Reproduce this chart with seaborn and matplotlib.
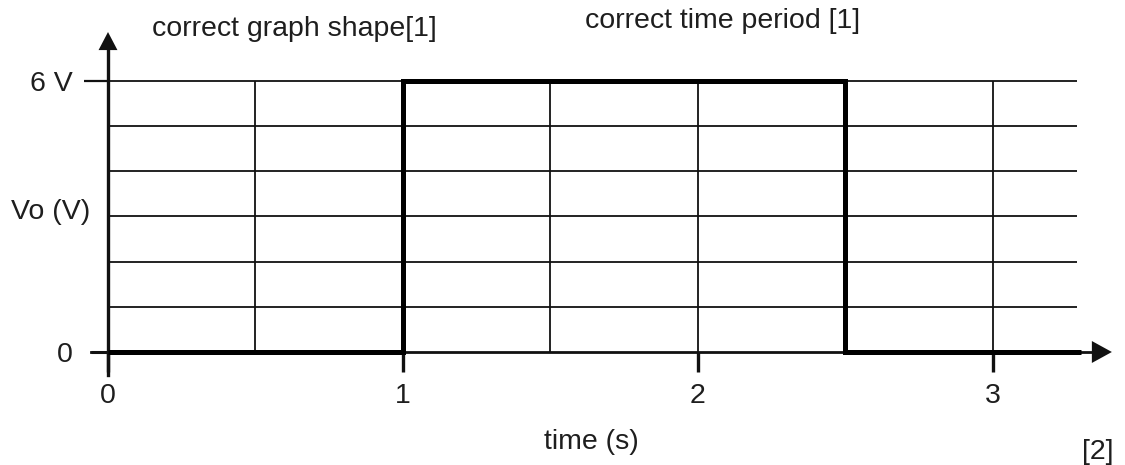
import matplotlib
matplotlib.use("Agg")
import matplotlib.pyplot as plt
import seaborn as sns

# Output voltage: low, then high from 1 s to 2.5 s, then low again
edge_time = [0.0, 1.0, 2.5, 3.3]     # s, moment each level starts
edge_volts = [0.0, 6.0, 0.0, 0.0]    # V, level held from that moment

x_ticks = [0, 1, 2, 3]
x_tick_labels = ["0", "1", "2", "3"]
y_ticks = [0, 6]
y_tick_labels = ["0", "6 V"]

grid_times = [0.5, 1.0, 1.5, 2.0, 2.5, 3.0]
grid_volts = [1, 2, 3, 4, 5, 6]
grid_end = 3.285

note_shape = "correct graph shape[1]"
note_period = "correct time period [1]"
mark_total = "[2]"

sns.set_theme(style="white")
plt.rcParams["font.family"] = ["Liberation Sans", "DejaVu Sans"]

INK = "#111111"
TEXT = "#1e1e1e"
FS = 20.5

fig = plt.figure(figsize=(11.25, 4.65), dpi=100)
ax = fig.add_axes([0, 0, 1, 1])
ax.set_xlim(-0.3661, 3.4475)
ax.set_ylim(-2.502, 7.793)

# square grid, 0.5 s by 1 V
ax.vlines(grid_times, 0, 6, colors=INK, lw=1.3, zorder=1)
ax.hlines(grid_volts, 0, grid_end, colors=INK, lw=1.3, zorder=1)

# the waveform
sns.lineplot(x=edge_time, y=edge_volts, drawstyle="steps-post", color="black",
             lw=3.6, ax=ax, zorder=4, solid_joinstyle="miter",
             solid_capstyle="butt")

# axes through the origin, with arrowheads
for side in ("top", "right"):
    ax.spines[side].set_visible(False)
ax.spines["left"].set_position(("data", 0))
ax.spines["bottom"].set_position(("data", 0))
ax.spines["left"].set_bounds(-0.51, 6.8)
ax.spines["bottom"].set_bounds(-0.058, 3.35)
ax.spines["left"].set_linewidth(2.4)
ax.spines["bottom"].set_linewidth(2.0)
for s in ("left", "bottom"):
    ax.spines[s].set_color(INK)
    ax.spines[s].set_zorder(3)

ax.annotate("", xy=(0, 7.084), xytext=(0, 6.7),
            arrowprops=dict(arrowstyle="-|>,head_length=1.3,head_width=0.68",
                            mutation_scale=10, color=INK, lw=0,
                            shrinkA=0, shrinkB=0))
ax.annotate("", xy=(3.403, 0), xytext=(3.3, 0),
            arrowprops=dict(arrowstyle="-|>,head_length=1.44,head_width=0.79",
                            mutation_scale=10, color=INK, lw=0,
                            shrinkA=0, shrinkB=0))

ax.set_xticks(x_ticks, x_tick_labels)
ax.set_yticks(y_ticks, y_tick_labels)
ax.tick_params(axis="x", direction="out", length=14.4, width=2.4, pad=8,
               labelsize=FS, colors=INK, labelcolor=TEXT, bottom=True)
ax.tick_params(axis="y", direction="out", length=17.3, width=1.6, pad=8,
               labelsize=FS, colors=INK, labelcolor=TEXT, left=True)
ax.yaxis.get_major_ticks()[0].tick1line.set_markersize(12.2)
ax.yaxis.get_major_ticks()[0].tick1line.set_markeredgewidth(2.2)

ax.set_xlabel("time (s)", fontsize=FS, color=TEXT)
ax.xaxis.set_label_coords(0.526, 0.0495)
ax.xaxis.label.set_va("center")
ax.set_ylabel("Vo (V)", fontsize=FS, color=TEXT, rotation=0,
              ha="right", va="center")
ax.yaxis.set_label_coords(0.080, 0.544)

ax.text(0.149, 7.15, note_shape, fontsize=FS, color=TEXT, ha="left", va="center")
ax.text(1.617, 7.33, note_period, fontsize=FS, color=TEXT, ha="left", va="center")
ax.text(3.407, -2.21, mark_total, fontsize=FS, color=TEXT, ha="right", va="center")

fig.savefig("out.png", dpi=100, facecolor="white")
